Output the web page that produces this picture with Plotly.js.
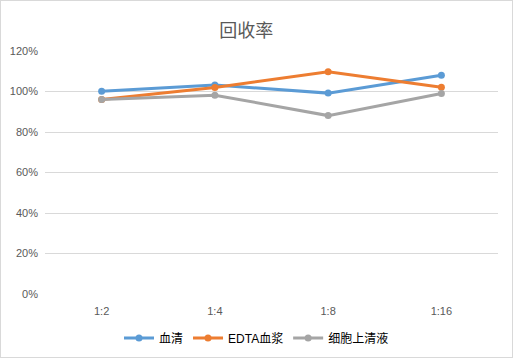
<!DOCTYPE html>
<html><head><meta charset="utf-8">
<script src="https://cdn.plot.ly/plotly-3.0.1.min.js"></script>
<style>html,body{margin:0;padding:0;background:#fff}#wrap{position:relative;width:513px;height:358px}#c{width:513px;height:358px}#b{position:absolute;left:0;top:0;width:511px;height:356px;border:1px solid #d9d9d9;pointer-events:none}</style>
</head><body><div id="wrap"><div id="c"></div><div id="b"></div></div>
<script>
const categories = ['1:2','1:4','1:8','1:16'];
const serum = [1.001, 1.032, 0.992, 1.080];
const edtaPlasma = [0.961, 1.020, 1.098, 1.021];
const cellSupernatant = [0.961, 0.982, 0.881, 0.990];
const names = ['血清','EDTA血浆','细胞上清液'];
const colors = ['#5B9BD5','#ED7D31','#A5A5A5'];
const series = [serum, edtaPlasma, cellSupernatant];
const font = '"Liberation Sans","Noto Sans CJK SC",sans-serif';
const traces = series.map((s,i)=>({
  x: categories, y: s, name: names[i], type:'scatter', mode:'lines+markers',
  line:{color:colors[i], width:3}, marker:{color:colors[i], size:7}
}));
Plotly.newPlot('c', traces, {
  width:513, height:358,
  margin:{l:45, r:15, t:51, b:64, autoexpand:false},
  paper_bgcolor:'#fff', plot_bgcolor:'#fff',
  title:{text:'回收率', font:{family:'"Noto Sans CJK SC",sans-serif', size:18, color:'#595959'}, x:0.48, xanchor:'center', y:0.915, yanchor:'middle'},
  xaxis:{type:'category', showgrid:false, zeroline:false, showline:false, ticks:'',
    tickfont:{family:font, size:11, color:'#595959'}, range:[-0.5,3.5], automargin:false, ticklabelstandoff:9},
  yaxis:{range:[0,1.2], dtick:0.2, tickformat:'.0%', gridcolor:'#d9d9d9', gridwidth:1,
    zeroline:false, showline:false, ticks:'', tickfont:{family:font, size:11, color:'#595959'}, ticklabelstandoff:6, automargin:false},
  showlegend:true,
  legend:{orientation:'h', x:0.5, xanchor:'center', xref:'container', yref:'container', y:0.056, yanchor:'middle',
    font:{family:font, size:12, color:'#000'}, itemwidth:30, tracegroupgap:0}
}, {staticPlot:true});
</script></body></html>
